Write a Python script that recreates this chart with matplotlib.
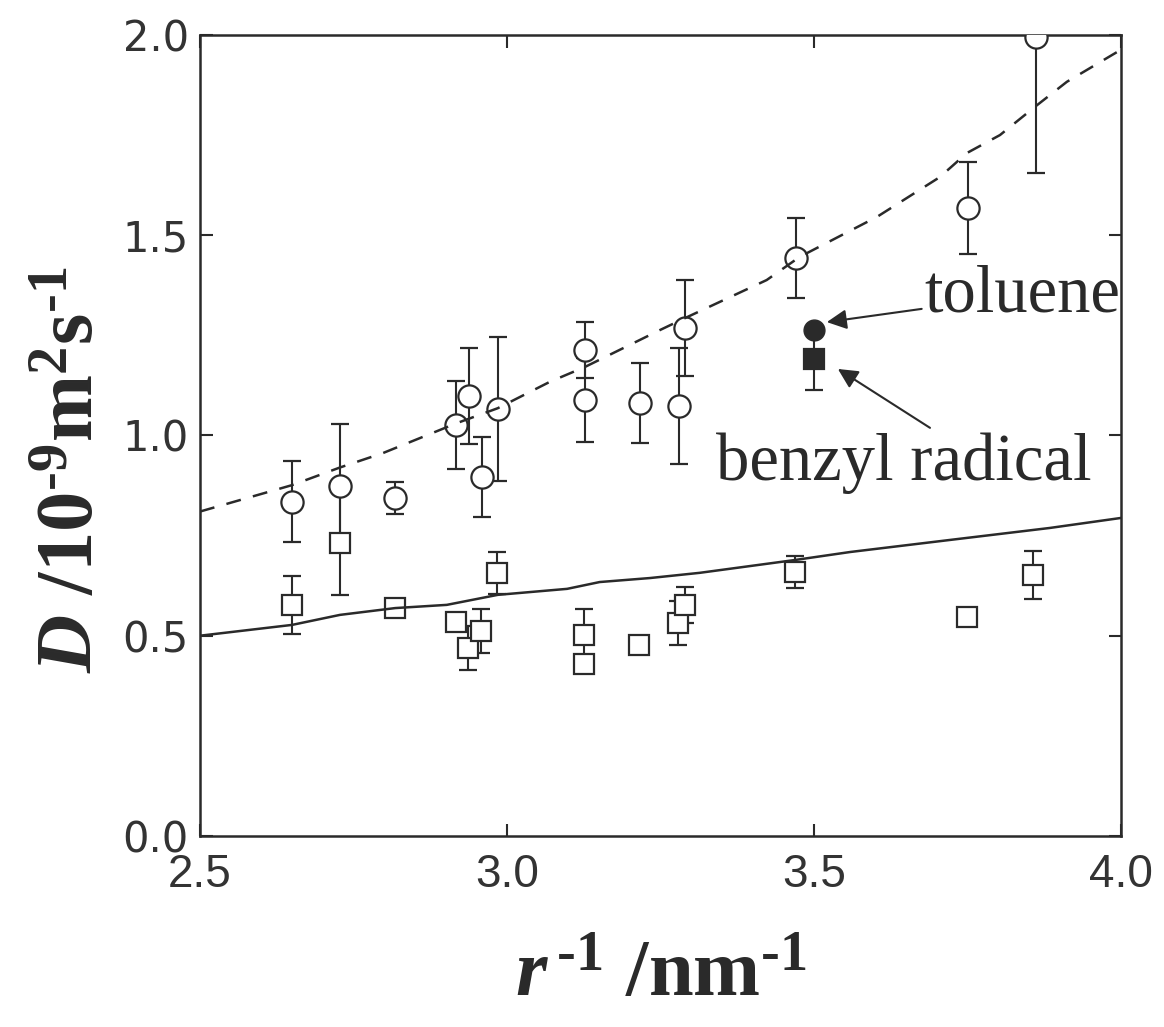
import matplotlib
matplotlib.use("Agg")
import matplotlib.pyplot as plt

# ---- data ----
x_circ = [2.65, 2.728, 2.818, 2.917, 2.938, 2.959, 2.985, 3.127, 3.127, 3.217, 3.280, 3.29, 3.471, 3.751, 3.862]
y_circ = [0.835, 0.874, 0.844, 1.026, 1.099, 0.896, 1.066, 1.213, 1.089, 1.081, 1.074, 1.268, 1.443, 1.568, 1.995]
e_circ = [0.10, 0.155, 0.04, 0.11, 0.12, 0.10, 0.18, 0.07, 0.105, 0.10, 0.145, 0.12, 0.10, 0.115, 0.34]

x_sq = [2.65, 2.728, 2.818, 2.917, 2.937, 2.958, 2.984, 3.125, 3.125, 3.215, 3.278, 3.29, 3.469, 3.749, 3.857]
y_sq = [0.577, 0.732, 0.569, 0.534, 0.469, 0.512, 0.657, 0.502, 0.43, 0.476, 0.532, 0.577, 0.659, 0.547, 0.652]
e_sq = [0.073, 0.13, 0.02, 0.0, 0.055, 0.055, 0.052, 0.065, 0.0, 0.01, 0.055, 0.045, 0.04, 0.0, 0.06]

x_toluene, y_toluene = [3.50], [1.263]
x_benzyl, y_benzyl, e_benzyl = [3.50], [1.191], [0.077]

x_dash = [2.5, 2.65, 2.728, 2.798, 2.917, 2.985, 3.07, 3.127, 3.249, 3.29, 3.423, 3.477,
          3.603, 3.705, 3.749, 3.803, 3.862, 3.912, 4.0]
y_dash = [0.81, 0.876, 0.92, 0.956, 1.03, 1.068, 1.134, 1.171, 1.263, 1.293, 1.388, 1.446,
          1.546, 1.645, 1.705, 1.75, 1.823, 1.883, 1.963]

x_solid = [2.5, 2.65, 2.728, 2.818, 2.902, 2.985, 3.098, 3.151, 3.233, 3.314, 3.469, 3.559, 3.721, 3.884, 4.0]
y_solid = [0.50, 0.527, 0.552, 0.569, 0.577, 0.602, 0.617, 0.634, 0.644, 0.657, 0.689, 0.709, 0.739, 0.769, 0.794]

x_ticks = [2.5, 3.0, 3.5, 4.0]
x_ticklabels = ["2.5", "3.0", "3.5", "4.0"]
y_ticks = [0.0, 0.5, 1.0, 1.5, 2.0]
y_ticklabels = ["0.0", "0.5", "1.0", "1.5", "2.0"]

# ---- style ----
plt.rcParams['mathtext.fontset'] = 'custom'
plt.rcParams['mathtext.rm'] = 'Liberation Serif:bold'
plt.rcParams['mathtext.bf'] = 'Liberation Serif:bold'
plt.rcParams['mathtext.it'] = 'Liberation Serif:italic:bold'
plt.rcParams['mathtext.default'] = 'bf'

ink = '#2a2a2a'
fig = plt.figure(figsize=(11.64, 10.27), dpi=100)
ax = fig.add_axes([0.1718, 0.186, 0.7912, 0.780])

ax.plot(x_dash, y_dash, color=ink, lw=1.8, dashes=(6, 5), zorder=4)
ax.plot(x_solid, y_solid, color=ink, lw=1.8, zorder=4)

ekw = dict(ecolor=ink, elinewidth=1.5, capsize=6.5, capthick=1.5, markeredgewidth=1.6,
           markeredgecolor=ink, linestyle='none')
ax.errorbar(x_circ, y_circ, yerr=e_circ, fmt='o', markersize=16, markerfacecolor='white',
            zorder=3, **ekw)
ax.errorbar(x_sq, y_sq, yerr=e_sq, fmt='s', markersize=14.5, markerfacecolor='white',
            zorder=3, **ekw)
ax.errorbar(x_benzyl, y_benzyl, yerr=e_benzyl, fmt='s', markersize=14.5, markerfacecolor=ink,
            zorder=3, **ekw)
ax.plot(x_toluene, y_toluene, 'o', markersize=15, color=ink, zorder=5)

ax.annotate('toluene', xy=(3.521, 1.283), xytext=(3.68, 1.351),
            fontsize=48, family='Liberation Serif', color=ink, va='center', ha='left',
            arrowprops=dict(arrowstyle='-|>', color=ink, lw=1.5, mutation_scale=30,
                            shrinkA=0, shrinkB=0))
ax.annotate('', xy=(3.539, 1.166), xytext=(3.689, 1.019),
            arrowprops=dict(arrowstyle='-|>', color=ink, lw=1.5, mutation_scale=30,
                            shrinkA=0, shrinkB=0))
ax.text(3.34, 0.93, 'benzyl radical', fontsize=48, family='Liberation Serif', color=ink,
        ha='left', va='center')

ax.set_xlim(2.5, 4.0)
ax.set_ylim(0.0, 2.0)
ax.set_xticks(x_ticks)
ax.set_xticklabels(x_ticklabels, family='Liberation Sans', fontsize=33, color='#333333')
ax.set_yticks(y_ticks)
ax.set_yticklabels(y_ticklabels, family='DejaVu Sans', fontsize=30, color='#333333')
ax.tick_params(direction='in', length=9, width=1.5, color=ink, top=True, right=True)
ax.tick_params(axis='x', pad=12)
ax.tick_params(axis='y', pad=8)
for s in ax.spines.values():
    s.set_linewidth(1.8)
    s.set_color(ink)

ax.set_xlabel(r'$\mathit{r}^{\,\text{-}1}$ /nm$^{\text{-}1}$', fontsize=58, family='Liberation Serif',
              fontweight='bold', color=ink)
ax.xaxis.set_label_coords(0.50, -0.13)
ax.set_ylabel(r'$\mathit{D}$ /10$^{\text{-}9}$m$^{2}$s$^{\text{-}1}$', fontsize=58, family='Liberation Serif',
              fontweight='bold', color=ink)
ax.yaxis.set_label_coords(-0.097, 0.457)

fig.savefig('out.png', dpi=100, facecolor='white')
